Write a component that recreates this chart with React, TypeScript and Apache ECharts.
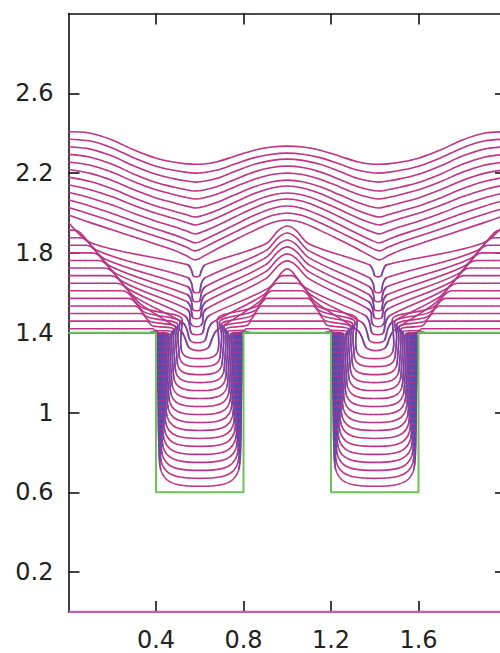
import React, { useEffect, useRef } from "react";
import * as echarts from "echarts";

type P = [number, number];

// axis ticks
const xTicks = [0.4, 0.8, 1.2, 1.6];
const yTicks = [0.2, 0.6, 1, 1.4, 1.8, 2.2, 2.6];

// trench outline (two trenches in the 0..2 cell)
const profileX = [0, 0.4, 0.4, 0.8, 0.8, 1.2, 1.2, 1.6, 1.6, 2];
const profileY = [1.4, 1.4, 0.6, 0.6, 1.4, 1.4, 0.6, 0.6, 1.4, 1.4];

// growth fronts, earliest first
// height on the left land (and at x = 0)
const landY = [
  1.4, 1.4, 1.4, 1.4, 1.4, 1.4, 1.4, 1.4, 1.4, 1.4, 1.4,
  1.42, 1.458, 1.496, 1.534, 1.572, 1.61, 1.648, 1.686, 1.724, 1.762,
  1.8, 1.838, 1.876, 1.914, 1.952, 1.99, 2.028, 2.066, 2.104, 2.142,
  2.18, 2.218, 2.256, 2.294, 2.332, 2.37, 2.407,
];
// lowest point of each front over the left trench (floor, slot bottom or dip)
const centerY = [
  0.63, 0.67, 0.71, 0.75, 0.79, 0.83, 0.87, 0.91, 0.95, 0.99,
  1.03, 1.07, 1.11, 1.15, 1.19, 1.23, 1.27,
  1.31, 1.35, 1.39, 1.43, 1.47, 1.51, 1.555, 1.6, 1.68,
  1.765, 1.81, 1.85, 1.895, 1.94, 1.98, 2.025, 2.07, 2.11, 2.155, 2.2, 2.244,
];
// height at x = 1, midway between the trenches
const midY = [
  1.4, 1.4, 1.4, 1.4, 1.4, 1.4, 1.4, 1.4, 1.4, 1.4, 1.4,
  1.42, 1.458, 1.496, 1.534, 1.572, 1.61, 1.648, 1.686,
  1.72, 1.76, 1.795, 1.83, 1.865, 1.9, 1.935, 1.965, 2.0, 2.035, 2.07,
  2.1, 2.135, 2.165, 2.2, 2.235, 2.27, 2.3, 2.335,
];

// fronts 0..16: floor still inside the trench
const sideTopX = [
  0.405, 0.408, 0.411, 0.415, 0.419, 0.424, 0.429, 0.435, 0.441, 0.448,
  0.455, 0.463, 0.471, 0.48, 0.49, 0.5, 0.51,
];
const floorHalfW = [
  0.186, 0.183, 0.179, 0.175, 0.171, 0.166, 0.161, 0.156, 0.15, 0.144,
  0.137, 0.13, 0.122, 0.114, 0.105, 0.096, 0.087,
];

// fronts 17..25: narrow slot at the trench centre
const slotX = [0.595, 0.59, 0.587, 0.585, 0.585, 0.585, 0.585, 0.585, 0.585];
const slotHalfW = [0.065, 0.05, 0.038, 0.03, 0.026, 0.024, 0.023, 0.022, 0.022];
const mouthY = [1.4, 1.44, 1.475, 1.51, 1.545, 1.58, 1.62, 1.665, 1.73];

// fronts 26..37: smooth waves; shape of the lowest and highest one
const waveXL = [0, 0.1, 0.2, 0.3, 0.4, 0.48, 0.54, 0.58];
const waveXR = [0.62, 0.68, 0.76, 0.85, 0.93, 1.0];
const narrowL = [1, 0.83, 0.67, 0.51, 0.35, 0.22, 0.09, 0];
const broadL = [1, 0.957, 0.75, 0.44, 0.19, 0.07, 0.015, 0];
const narrowR = [0.1, 0.28, 0.5, 0.74, 0.93, 1];
const broadR = [0.02, 0.14, 0.45, 0.78, 0.95, 1];

const FIRST_SLOT = 17;
const FIRST_WAVE = 26;

const MAGENTA = "#cb3380";
const BLUE = "#4a4cb4";
const GREEN = "#6cc456";

// bend positions on the lands and the steep stretch just past each bend
const leftBend = (h: number) => Math.max(0, 0.4 - (h - 1.4) * 0.727);
const midBend = (h: number) => 0.8 + (h - 1.4) * 0.625;
const DROP_LEFT: P = [0.11, 0.105];
const DROP_MID: P = [0.085, 0.095];

interface Half {
  pts: P[];
  walls: P[][];
}

const mirrorAbout = (pts: P[], c: number): P[] =>
  pts.map(([x, y]) => [2 * c - x, y] as P);

function trenchHalf(k: number): Half {
  const h = landY[k];
  const b = centerY[k];
  const W = floorHalfW[k];
  const st = sideTopX[k];
  const c = 0.6;
  const hidden = h <= 1.401;
  const lead: P[] = [];
  let neck: P;
  const f = Math.min(1, (h - 1.4) / 0.21);
  if (hidden) {
    neck = [st + 0.004, 1.397];
    lead.push([0, 1.4], [0.37, 1.4], [0.4, 1.401]);
  } else {
    const xb = leftBend(h);
    neck = [st + 0.01, 1.4 + (h - 1.4) * 0.3];
    lead.push([0, h], [xb, h], [xb + DROP_LEFT[0] * f * 0.8, h - DROP_LEFT[1] * f * 0.8]);
  }
  const sh: P = [c - W, b + W * 0.9];
  const side: P[] = [neck];
  const sideTop = Math.min(neck[1] - 0.04, 1.38);
  if (sideTop > sh[1] + 0.06) {
    side.push([st, sideTop]);
    if (sideTop - sh[1] > 0.25) side.push([(st + sh[0]) / 2, (sideTop + sh[1]) / 2]);
  }
  side.push(sh, [c - 0.96 * W, b + 0.45 * W]);
  const inner: P[] = [...side, [c - 0.8 * W, b + 0.17 * W], [c - 0.5 * W, b + 0.035 * W]];
  const right: P[] = mirrorAbout(inner.slice().reverse(), c);
  const out: P[] = [...lead, ...inner, [c, b], ...right];
  if (hidden) {
    out.push([0.8, 1.401], [0.83, 1.4], [1, 1.4]);
  } else {
    const xb = midBend(h);
    out.push([xb - DROP_MID[0] * f * 0.8, h - DROP_MID[1] * f * 0.8], [xb, h], [1, h]);
  }
  return { pts: out, walls: [side, mirrorAbout(side, c)] };
}

function slotHalf(k: number): Half {
  const i = k - FIRST_SLOT;
  const h = landY[k];
  const b = centerY[k];
  const m = midY[k];
  const cs = slotX[i];
  const sw = slotHalfW[i];
  const ym = mouthY[i];
  const xb = leftBend(h);
  const xm = cs - sw - 0.016;
  const lead: P[] = [[0, h]];
  if (xb > 0.005) lead.push([xb, h]);
  lead.push([xb + DROP_LEFT[0], h - DROP_LEFT[1]]);
  const inner: P[] = [[xm, ym + 0.01], [cs - sw, ym - 0.02]];
  if (ym - 0.02 - (b + sw) > 0.03) inner.push([cs - sw, b + sw]);
  inner.push([cs - 0.7 * sw, b + 0.25 * sw]);
  const right: P[] = mirrorAbout(inner.slice().reverse(), cs);
  const out: P[] = [...lead, ...inner, [cs, b], ...right];
  if (m >= h - 0.001 && midBend(h) < 1) {
    const xbr = midBend(h);
    out.push([xbr - DROP_MID[0], h - DROP_MID[1]], [xbr, h], [1, h]);
  } else if (k === FIRST_SLOT + 2) {
    out.push([1 - DROP_MID[0], m - DROP_MID[1]], [1, m]);
  } else {
    out.push([0.9, m - 0.09], [0.96, m - 0.022], [1, m]);
  }
  return { pts: out, walls: [inner, mirrorAbout(inner, cs)] };
}

function waveHalf(k: number): Half {
  const t = (k - FIRST_WAVE) / (landY.length - 1 - FIRST_WAVE);
  const y0 = landY[k];
  const d = centerY[k];
  const m = midY[k];
  const out: P[] = [];
  waveXL.forEach((x, j) => {
    const f = narrowL[j] * (1 - t) + broadL[j] * t;
    out.push([x, d + f * (y0 - d)]);
  });
  waveXR.forEach((x, j) => {
    const g = narrowR[j] * (1 - t) + broadR[j] * t;
    out.push([x, d + g * (m - d)]);
  });
  return { pts: out, walls: [] };
}

function front(k: number): { pts: P[]; walls: P[][] } {
  const half = k < FIRST_SLOT ? trenchHalf(k) : k < FIRST_WAVE ? slotHalf(k) : waveHalf(k);
  const hp = half.pts;
  const mirrored: P[] = [];
  for (let i = hp.length - 2; i >= 0; i--) mirrored.push([2 - hp[i][0], hp[i][1]]);
  const walls = [...half.walls, ...half.walls.map((w) => mirrorAbout(w, 1))];
  return { pts: [...hp, ...mirrored], walls };
}

export default function App() {
  const ref = useRef<HTMLDivElement>(null);
  useEffect(() => {
    document.body.style.margin = "0";
    document.body.style.overflow = "hidden";
    document.documentElement.style.overflow = "hidden";
    const chart = echarts.init(ref.current!, undefined, { renderer: "svg" });

    const series: any[] = [];
    const base = { type: "line", symbol: "none", silent: true, smooth: 0.35 };
    landY.forEach((_, k) => {
      const f = front(k);
      series.push({ ...base, data: f.pts, z: 2, lineStyle: { color: MAGENTA, width: 1.6 } });
      series.push({
        ...base,
        data: f.pts,
        z: 3,
        lineStyle: { color: BLUE, width: 1.3, type: [1.5, 4], opacity: 0.35 },
      });
      f.walls.forEach((w) => {
        series.push({ ...base, data: w, z: 3, lineStyle: { color: BLUE, width: 1.5, opacity: 0.8 } });
        series.push({
          ...base,
          data: w,
          z: 3,
          lineStyle: { color: MAGENTA, width: 1.4, type: [2, 4], opacity: 0.6 },
        });
      });
    });
    series.push({
      type: "line",
      data: profileX.map((x, i) => [x, profileY[i]]),
      symbol: "none",
      silent: true,
      z: 4,
      lineStyle: { color: GREEN, width: 2 },
    });
    series.push({
      type: "line",
      data: [[0, 0], [2, 0]],
      symbol: "none",
      silent: true,
      z: 5,
      lineStyle: { color: "#c060a8", width: 2.5 },
    });

    const axisLine = { show: true, onZero: false, lineStyle: { color: "#111", width: 1.6 } };
    const tickStyle = { color: "#111", width: 1.6 };
    const labelStyle = { fontSize: 24, fontFamily: "DejaVu Sans", color: "#222" };

    chart.setOption({
      animation: false,
      grid: { left: 68.5, right: 4, top: 13.5, bottom: 41 },
      xAxis: [
        {
          type: "value",
          min: 0,
          max: 2,
          interval: 0.4,
          position: "bottom",
          axisLine,
          axisTick: { inside: true, length: 11, lineStyle: tickStyle, customValues: xTicks },
          axisLabel: { ...labelStyle, margin: 16, customValues: xTicks },
          splitLine: { show: false },
        },
        {
          type: "value",
          min: 0,
          max: 2,
          interval: 0.4,
          position: "top",
          axisLine,
          axisTick: { inside: true, length: 11, lineStyle: tickStyle, customValues: xTicks },
          axisLabel: { show: false },
          splitLine: { show: false },
        },
      ],
      yAxis: [
        {
          type: "value",
          min: 0,
          max: 3,
          position: "left",
          axisLine,
          axisTick: { inside: true, length: 11, lineStyle: tickStyle, customValues: yTicks },
          axisLabel: { ...labelStyle, margin: 15, customValues: yTicks },
          splitLine: { show: false },
        },
        {
          type: "value",
          min: 0,
          max: 3,
          position: "right",
          axisLine,
          axisTick: { inside: true, length: 11, lineStyle: tickStyle, customValues: yTicks },
          axisLabel: { show: false },
          splitLine: { show: false },
        },
      ],
      series,
    });
    return () => chart.dispose();
  }, []);
  return <div ref={ref} style={{ width: 510, height: 653 }} />;
}
